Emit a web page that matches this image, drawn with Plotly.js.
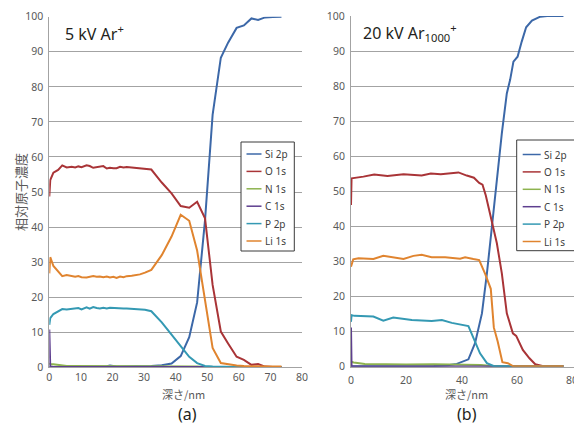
<!DOCTYPE html>
<html>
<head>
<meta charset="utf-8">
<script src="https://cdn.plot.ly/plotly-3.0.1.min.js"></script>
<style>html,body{margin:0;padding:0;background:#fff}#chart{width:574px;height:425px}</style>
</head>
<body>
<div id="chart"></div>
<script>
// ---------- data ----------
var seriesNames = ["Si 2p", "O 1s", "N 1s", "C 1s", "P 2p", "Li 1s"];
var seriesColors = ["#3c68a8", "#a93437", "#8db34f", "#5e3f8f", "#3499b3", "#e0842f"];

// (a) 5 kV Ar+
var depthA = [0, 0.3, 1.3, 2.8, 4.1, 5.5, 7.1, 8.2, 9.2, 10.2, 11.8, 12.8, 13.9, 15, 16, 17.1, 18.2, 19.2, 20.3, 21.3, 22.4, 23.5, 24.5, 26.1, 28.7, 30.3, 32.3, 35.6, 38.7, 41.6, 44.3, 46.8, 49.3, 51.7, 54.3, 56.6, 59.3, 61.6, 64.0, 66.1, 68.3, 70.8, 73.5];
var siA = [0.1, 0.1, 0.2, 0.2, 0.2, 0.2, 0.2, 0.2, 0.2, 0.2, 0.2, 0.2, 0.2, 0.2, 0.2, 0.2, 0.3, 0.5, 0.3, 0.2, 0.2, 0.2, 0.2, 0.2, 0.3, 0.3, 0.4, 0.6, 1.1, 3.2, 8.6, 18.5, 42, 72, 88.3, 92.6, 96.8, 97.5, 99.5, 99.1, 99.8, 99.9, 100];
var oA = [48.7, 53.4, 55.5, 56.3, 57.6, 57.0, 57.2, 57.0, 57.3, 57.1, 57.6, 57.4, 56.9, 57.0, 57.1, 57.4, 56.7, 56.9, 56.8, 56.8, 57.2, 57.0, 57.1, 57.0, 56.8, 56.7, 56.4, 52.7, 49.6, 46.0, 45.5, 47.2, 42.5, 23.5, 10.2, 6.8, 3.0, 2.1, 0.7, 0.9, 0.2, 0.1, 0.1];
var nA = [1.2, 0.9, 0.9, 0.7, 0.5, 0.4, 0.4, 0.4, 0.4, 0.4, 0.4, 0.4, 0.4, 0.4, 0.4, 0.4, 0.4, 0.4, 0.4, 0.4, 0.4, 0.4, 0.4, 0.4, 0.4, 0.4, 0.4, 0.3, 0.3, 0.3, 0.2, 0.2, 0.1, 0.1, 0.1, 0.1, 0.1, 0.1, 0.1, 0.1, 0.1, 0.1, 0.1];
var cA = [10.8, 0.2, 0.1, 0.1, 0.1, 0.1, 0.1, 0.1, 0.1, 0.1, 0.1, 0.1, 0.1, 0.1, 0.1, 0.1, 0.1, 0.1, 0.1, 0.1, 0.1, 0.1, 0.1, 0.1, 0.1, 0.1, 0.1, 0.1, 0.1, 0.1, 0.1, 0.1, 0.1, 0.1, 0.1, 0.1, 0.1, 0.1, 0.1, 0.1, 0.1, 0.1, 0.1];
var pA = [12.1, 14.0, 15.2, 15.9, 16.6, 16.5, 16.6, 16.7, 16.9, 16.5, 17.1, 16.7, 17.2, 16.9, 16.8, 17.0, 16.8, 17.0, 16.9, 16.8, 16.9, 16.8, 16.8, 16.7, 16.6, 16.4, 16.0, 12.8, 9.3, 6.0, 3.0, 1.2, 0.4, 0.2, 0.1, 0.1, 0.1, 0.1, 0.1, 0.1, 0.1, 0.1, 0.1];
var liA = [26.8, 31.4, 28.9, 27.5, 26.0, 26.3, 25.9, 25.8, 26.0, 25.7, 25.6, 25.7, 26.0, 25.8, 25.9, 25.7, 25.9, 25.6, 25.8, 25.5, 25.9, 25.7, 26.0, 26.1, 26.5, 27.0, 27.8, 32.0, 37.3, 43.5, 41.8, 33.3, 19.5, 5.5, 1.2, 0.8, 0.5, 0.4, 0.3, 0.3, 0.2, 0.2, 0.2];

// (b) 20 kV Ar1000+
var siBx = [0, 5, 10, 15, 20, 25, 30, 35, 38.3, 42.5, 44.9, 47.4, 49.2, 51.0, 52.8, 54.6, 56.4, 57.6, 58.8, 60.3, 61.8, 63.4, 65.5, 68.5, 71, 74, 76.9];
var siBy = [0.1, 0.1, 0.1, 0.1, 0.1, 0.1, 0.2, 0.4, 0.8, 2.1, 6.7, 15.2, 26.6, 39.9, 54.2, 66.5, 77.9, 81.8, 87.0, 88.4, 92.7, 96.8, 98.7, 99.8, 100, 100, 100];
var oBx = [0, 0.2, 4.5, 8.4, 13.2, 19.0, 25.6, 28.9, 32.5, 38.9, 41.9, 44.5, 46.4, 47.6, 48.8, 50.4, 52.8, 54.6, 56.4, 58.6, 59.8, 62.2, 64.6, 66.7, 70, 73.5, 76.9];
var oBy = [46.1, 53.7, 54.2, 54.8, 54.4, 54.9, 54.5, 55.1, 54.9, 55.4, 54.5, 53.9, 52.4, 51.9, 48.8, 43.3, 35.2, 26.6, 15.2, 9.5, 8.8, 4.8, 2.4, 0.7, 0.1, 0.1, 0.1];
var nBx = [0, 1, 5, 10, 20, 30, 40, 44, 47, 50, 55, 60, 70, 76.9];
var nBy = [1.4, 1.2, 0.8, 0.7, 0.6, 0.7, 0.7, 0.6, 0.5, 0.3, 0.1, 0.1, 0.1, 0.1];
var cBx = [0, 0.2, 10, 20, 30, 40, 50, 60, 70, 76.9];
var cBy = [11.2, 0.1, 0.05, 0.05, 0.05, 0.05, 0.05, 0.05, 0.05, 0.05];
var pBx = [0, 0.2, 1.2, 8.1, 11.7, 15.3, 22.0, 29.2, 32.9, 36.5, 42.5, 44.6, 46.7, 49.2, 51.6, 55, 60, 65, 70, 76.9];
var pBy = [12.8, 14.7, 14.5, 14.3, 13.1, 14.0, 13.3, 13.0, 13.3, 12.5, 11.6, 7.6, 3.8, 1.0, 0.2, 0.1, 0.1, 0.1, 0.1, 0.1];
var liBx = [0, 0.8, 2.7, 8.1, 11.7, 14.7, 19.0, 22.6, 25.6, 29.2, 34.1, 39.5, 41.3, 44.3, 46.4, 48.6, 50.6, 51.7, 53.1, 54.8, 56.8, 58.6, 62, 66, 70, 73.5, 76.9];
var liBy = [28.5, 30.6, 30.9, 30.7, 31.6, 31.2, 30.7, 31.6, 31.9, 31.2, 31.2, 30.8, 31.2, 30.7, 30.4, 26.4, 22.2, 11.2, 7.2, 1.3, 1.0, 0.2, 0.1, 0.1, 0.1, 0.1, 0.1];

var xTicksA = [0, 10, 20, 30, 40, 50, 60, 70, 80];
var xTicksB = [0, 20, 40, 60, 80];
var yTicks = [0, 10, 20, 30, 40, 50, 60, 70, 80, 90, 100];
var panelTitleA = "5 kV Ar<sup>+</sup>";
var panelTitleB = "20 kV Ar<sub>1000</sub><sup>+</sup>";
var xTitle = "深さ/nm";
var yTitle = "相対原子濃度";
var panelLabels = ["(a)", "(b)"];

// ---------- build ----------
var W = 574, H = 425;
function px(x) { return x / W; }
function py(y) { return 1 - y / H; }

var setsA = [[depthA, siA], [depthA, oA], [depthA, nA], [depthA, cA], [depthA, pA], [depthA, liA]];
var setsB = [[siBx, siBy], [oBx, oBy], [nBx, nBy], [cBx, cBy], [pBx, pBy], [liBx, liBy]];
var traces = [];
setsA.forEach(function (s, i) {
  traces.push({x: s[0], y: s[1], type: 'scatter', mode: 'lines', name: seriesNames[i],
    xaxis: 'x', yaxis: 'y', line: {color: seriesColors[i], width: 2}, showlegend: false, hoverinfo: 'skip'});
});
setsB.forEach(function (s, i) {
  traces.push({x: s[0], y: s[1], type: 'scatter', mode: 'lines', name: seriesNames[i],
    xaxis: 'x2', yaxis: 'y2', line: {color: seriesColors[i], width: 2}, showlegend: false, hoverinfo: 'skip'});
});

var font = "Noto Sans, Open Sans, sans-serif";
var tickFont = {family: font, size: 10.5, color: '#595959'};
var gridColor = '#a3a3a3';
function yax(anchor, dom) {
  return {range: [0, 100], tickvals: yTicks, domain: dom, anchor: anchor,
    showgrid: true, gridcolor: gridColor, gridwidth: 1, zeroline: false,
    showline: true, linecolor: gridColor, linewidth: 1, ticks: '', ticklabelstandoff: 3,
    tickfont: tickFont, fixedrange: true};
}
function xax(anchor, dom, ticks, rng, showLabels) {
  return {range: rng, tickvals: ticks, domain: dom, anchor: anchor, showticklabels: showLabels,
    showgrid: false, zeroline: false, showline: true, linecolor: gridColor, linewidth: 1,
    ticks: '', tickfont: tickFont, fixedrange: true};
}

var shapes = [], annotations = [];
function legend(box, lineX0, lineX1, textX, rowY) {
  shapes.push({type: 'rect', xref: 'paper', yref: 'paper', x0: px(box[0]), x1: px(box[1]), y0: py(box[3]), y1: py(box[2]),
    line: {color: '#3a3a3a', width: 1}, fillcolor: '#ffffff', layer: 'above'});
  seriesNames.forEach(function (n, i) {
    var yy = rowY[0] + i * rowY[1];
    shapes.push({type: 'line', xref: 'paper', yref: 'paper', x0: px(lineX0), x1: px(lineX1), y0: py(yy), y1: py(yy),
      line: {color: seriesColors[i], width: 1.5}, layer: 'above'});
    annotations.push({xref: 'paper', yref: 'paper', x: px(textX), y: py(yy), xanchor: 'left', yanchor: 'middle',
      text: n, showarrow: false, font: {family: font, size: 10, color: '#404040'}});
  });
}
legend([241, 294.3, 142, 251], 246.5, 261.5, 263, [154, 17.4]);
legend([516.7, 574.5, 140, 250.7], 522.7, 540.7, 542.3, [154.5, 17.4]);

// tick labels of panel (b), placed at the axis values of xaxis2
xTicksB.forEach(function (t) {
  annotations.push({xref: 'x2', yref: 'paper', x: t, y: py(379.5), xanchor: 'center', yanchor: 'middle',
    text: String(t), showarrow: false, font: tickFont, borderpad: 0});
});

annotations.push({xref: 'paper', yref: 'paper', x: px(63), y: py(33), xanchor: 'left', yanchor: 'middle',
  text: panelTitleA, showarrow: false, font: {family: font, size: 16, color: '#231f20'}});
annotations.push({xref: 'paper', yref: 'paper', x: px(361), y: py(33), xanchor: 'left', yanchor: 'middle',
  text: panelTitleB, showarrow: false, font: {family: font, size: 16, color: '#231f20'}});
annotations.push({xref: 'paper', yref: 'paper', x: px(183), y: py(394), xanchor: 'center', yanchor: 'middle',
  text: xTitle, showarrow: false, font: {family: "Noto Sans CJK JP, sans-serif", size: 11, color: '#595959'}});
annotations.push({xref: 'paper', yref: 'paper', x: px(466), y: py(394), xanchor: 'center', yanchor: 'middle',
  text: xTitle, showarrow: false, font: {family: "Noto Sans CJK JP, sans-serif", size: 11, color: '#595959'}});
annotations.push({xref: 'paper', yref: 'paper', x: px(20), y: py(192), xanchor: 'center', yanchor: 'middle',
  text: yTitle, textangle: -90, showarrow: false, font: {family: "Noto Sans CJK JP, sans-serif", size: 13, color: '#595959'}});
annotations.push({xref: 'paper', yref: 'paper', x: px(187), y: py(414), xanchor: 'center', yanchor: 'middle',
  text: panelLabels[0], showarrow: false, font: {family: font, size: 16, color: '#231f20'}});
annotations.push({xref: 'paper', yref: 'paper', x: px(467), y: py(414), xanchor: 'center', yanchor: 'middle',
  text: panelLabels[1], showarrow: false, font: {family: font, size: 16, color: '#231f20'}});

var layout = {
  width: W, height: H, margin: {l: 0, r: 0, t: 0, b: 0},
  paper_bgcolor: '#ffffff', plot_bgcolor: '#ffffff', showlegend: false,
  xaxis: xax('y', [px(49.3), px(302)], xTicksA, [0, 80], true),
  yaxis: yax('x', [py(367.3), py(16.7)]),
  xaxis2: xax('y2', [px(351), 1], xTicksB, [0, 80 * (574 - 351) / (572 - 351)], false),
  yaxis2: yax('x2', [py(366.7), py(16)]),
  shapes: shapes, annotations: annotations
};

Plotly.newPlot('chart', traces, layout, {staticPlot: true, displayModeBar: false});
</script>
</body>
</html>
